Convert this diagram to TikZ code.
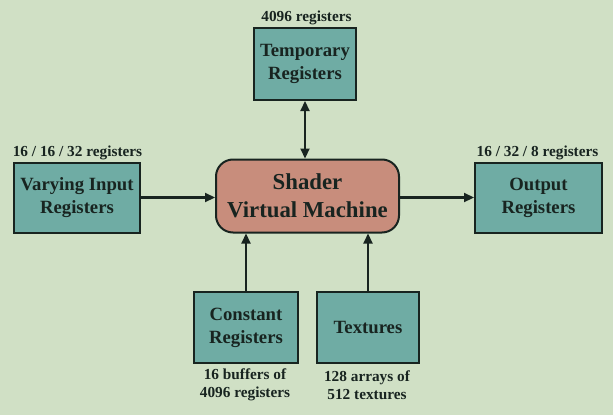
\documentclass[tikz,border=0pt]{standalone}
\usepackage{fontspec}
\setmainfont{Liberation Serif}
\usetikzlibrary{arrows.meta}
\definecolor{bgcol}{RGB}{208,224,197}
\definecolor{regcol}{RGB}{111,172,164}
\definecolor{vmcol}{RGB}{200,141,124}
\definecolor{inkcol}{RGB}{24,36,32}
\begin{document}
\begin{tikzpicture}[x=1pt,y=-1pt,
  reg/.style={draw=inkcol, line width=2pt, fill=regcol, align=center, text=inkcol,
    inner sep=0pt, font=\bfseries\fontsize{18.7}{23}\selectfont},
  vm/.style={draw=inkcol, line width=2pt, fill=vmcol, align=center, text=inkcol,
    inner sep=0pt, rounded corners=17pt, font=\bfseries\fontsize{22.8}{28}\selectfont},
  note/.style={align=center, text=inkcol, inner sep=0pt, font=\bfseries\fontsize{15.3}{18.3}\selectfont},
  flow/.style={draw=inkcol, line width=2.2pt, -{Triangle[length=10pt,width=9pt]}}]
\fill[bgcol] (0,0) rectangle (613,415);
\node[vm, minimum width=183pt, minimum height=73pt] (shader) at (307.5,196) {Shader\\Virtual Machine};
\node[reg, minimum width=102pt, minimum height=72pt] (temp) at (305,64) {Temporary\\Registers};
\node[reg, minimum width=126pt, minimum height=70pt] (vary) at (77,197.5) {Varying Input\\Registers};
\node[reg, minimum width=127pt, minimum height=70pt] (out) at (538.5,197.5) {Output\\Registers};
\node[reg, minimum width=104pt, minimum height=71pt] (const) at (246,327.5) {Constant\\Registers};
\node[reg, minimum width=102pt, minimum height=71pt] (tex) at (368,327.5) {Textures};
\node[note] (tempnote) at (306.5,18) {4096 registers};
\node[note] (varynote) at (77.5,152.5) {16 / 16 / 32 registers};
\node[note] (outnote) at (537.5,152.5) {16 / 32 / 8 registers};
\node[note] (constnote) at (245,385) {16 buffers of\\4096 registers};
\node[note] (texnote) at (367,385) {128 arrays of\\512 textures};
\draw[flow, {Triangle[length=10pt,width=9pt]}-{Triangle[length=10pt,width=9pt]}] (temp.south) -- (temp.south |- shader.north);
\draw[flow] (vary.east) -- (vary.east -| shader.west);
\draw[flow] (out.west -| shader.east) -- (out.west);
\draw[flow] (const.north) -- (const.north |- shader.south);
\draw[flow] (tex.north) -- (tex.north |- shader.south);
\end{tikzpicture}
\end{document}
